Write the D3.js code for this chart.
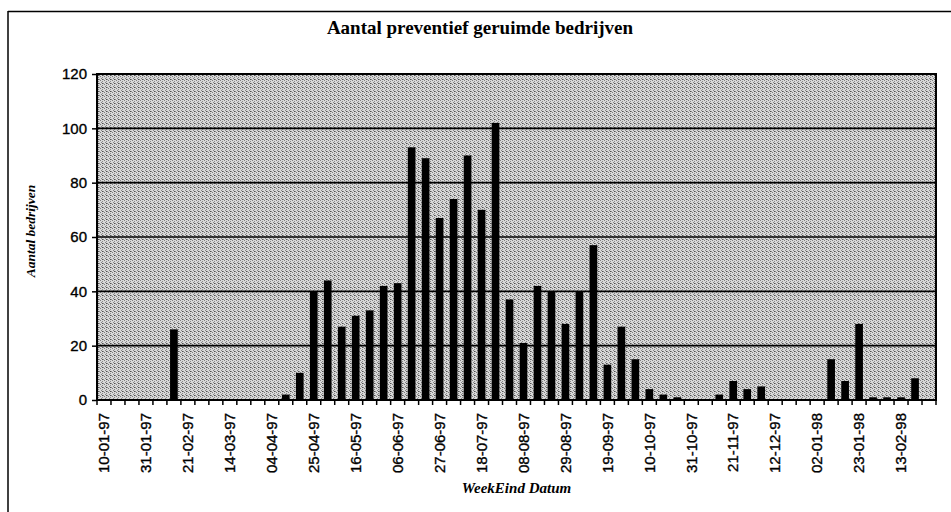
<!DOCTYPE html>
<html>
<head>
<meta charset="utf-8">
<script src="https://cdn.jsdelivr.net/npm/d3@7"></script>
<style>
  html, body { margin: 0; padding: 0; background: #fff; }
  svg { display: block; }
</style>
</head>
<body>
<svg id="chart" width="951" height="512"></svg>
<script>
// ---- data ----
const categories = [
  "10-01-97","17-01-97","24-01-97","31-01-97","07-02-97","14-02-97","21-02-97","28-02-97",
  "07-03-97","14-03-97","21-03-97","28-03-97","04-04-97","11-04-97","18-04-97","25-04-97",
  "02-05-97","09-05-97","16-05-97","23-05-97","30-05-97","06-06-97","13-06-97","20-06-97",
  "27-06-97","04-07-97","11-07-97","18-07-97","25-07-97","01-08-97","08-08-97","15-08-97",
  "22-08-97","29-08-97","05-09-97","12-09-97","19-09-97","26-09-97","03-10-97","10-10-97",
  "17-10-97","24-10-97","31-10-97","07-11-97","14-11-97","21-11-97","28-11-97","05-12-97",
  "12-12-97","19-12-97","26-12-97","02-01-98","09-01-98","16-01-98","23-01-98","30-01-98",
  "06-02-98","13-02-98","20-02-98","27-02-98"
];
const values = [
  0,0,0,0,0,26,0,0,
  0,0,0,0,0,2,10,40,
  44,27,31,33,42,43,93,89,
  67,74,90,70,102,37,21,42,
  40,28,40,57,13,27,15,4,
  2,1,0,0,2,7,4,5,
  0,0,0,0,15,7,28,1,
  1,1,8,0
];
const tickLabels = [
  "10-01-97","31-01-97","21-02-97","14-03-97","04-04-97","25-04-97","16-05-97",
  "06-06-97","27-06-97","18-07-97","08-08-97","29-08-97","19-09-97","10-10-97",
  "31-10-97","21-11-97","12-12-97","02-01-98","23-01-98","13-02-98"
];
const yTicks = [0, 20, 40, 60, 80, 100, 120];
const title = "Aantal preventief geruimde bedrijven";
const xTitle = "WeekEind Datum";
const yTitle = "Aantal bedrijven";

// ---- layout ----
const svg = d3.select("#chart");
const plot = { left: 97, right: 936, top: 74, bottom: 400 };

const pad = 0.45;
const x = d3.scaleBand().domain(categories)
  .range([plot.left, plot.right]).paddingInner(pad).paddingOuter(pad / 2);
const y = d3.scaleLinear().domain([0, 120]).range([plot.bottom, plot.top]);

// outer frame (left + top)
svg.append("line").attr("x1", 8).attr("x2", 951).attr("y1", 11.5).attr("y2", 11.5)
  .attr("stroke", "#000").attr("stroke-width", 1.5);
svg.append("line").attr("x1", 8).attr("x2", 8).attr("y1", 11).attr("y2", 512)
  .attr("stroke", "#000").attr("stroke-width", 1.5);

// texture pattern for plot area
const defs = svg.append("defs");
const pat = defs.append("pattern").attr("id", "tex")
  .attr("width", 4).attr("height", 4).attr("patternUnits", "userSpaceOnUse");
pat.append("rect").attr("width", 4).attr("height", 4).attr("fill", "#d8d8d8");
[[0,0,"#7e7e7e"],[2,1,"#8a8a8a"],[1,2,"#858585"],[3,3,"#8a8a8a"],[2,3,"#505050"]].forEach(p => {
  pat.append("rect").attr("x", p[0]).attr("y", p[1]).attr("width", 1).attr("height", 1).attr("fill", p[2]);
});

svg.append("rect")
  .attr("x", plot.left).attr("y", plot.top)
  .attr("width", plot.right - plot.left).attr("height", plot.bottom - plot.top)
  .attr("fill", "url(#tex)");

// gridlines
svg.append("g").selectAll("line").data(yTicks.filter(d => d > 0 && d < 120)).join("line")
  .attr("x1", plot.left).attr("x2", plot.right)
  .attr("y1", d => y(d)).attr("y2", d => y(d))
  .attr("stroke", "#000").attr("stroke-width", 1.6);

// bars
svg.append("g").selectAll("rect").data(values).join("rect")
  .attr("x", (d, i) => x(categories[i]))
  .attr("width", x.bandwidth())
  .attr("y", d => y(d))
  .attr("height", d => y(0) - y(d))
  .attr("fill", "#000");

// plot border
svg.append("rect")
  .attr("x", plot.left).attr("y", plot.top)
  .attr("width", plot.right - plot.left).attr("height", plot.bottom - plot.top)
  .attr("fill", "none").attr("stroke", "#000").attr("stroke-width", 2);

// y axis
const yAxis = d3.axisLeft(y).tickValues(yTicks).tickSize(5).tickPadding(5);
const gy = svg.append("g").attr("transform", `translate(${plot.left},0)`).call(yAxis);
gy.select(".domain").remove();
gy.selectAll("line").attr("stroke", "#000").attr("stroke-width", 1.5);
gy.selectAll("text").attr("font-family", "'Liberation Sans', Arial, sans-serif")
  .attr("font-size", 15).attr("fill", "#000")
  .attr("stroke", "#000").attr("stroke-width", 0.35);

// x axis ticks at category boundaries
const step = x.step();
const boundaries = categories.map(c => x(c) - step * pad / 2).concat([plot.right]);
svg.append("g").selectAll("line").data(boundaries).join("line")
  .attr("x1", d => d).attr("x2", d => d)
  .attr("y1", plot.bottom).attr("y2", plot.bottom + 5)
  .attr("stroke", "#000").attr("stroke-width", 1.5);

// x tick labels (rotated)
svg.append("g").selectAll("text").data(tickLabels).join("text")
  .attr("transform", d => `translate(${x(d) + x.bandwidth() / 2},${plot.bottom + 13}) rotate(-90)`)
  .attr("text-anchor", "end")
  .attr("dy", "0.35em")
  .attr("font-family", "'Liberation Sans', Arial, sans-serif")
  .attr("font-size", 15)
  .attr("fill", "#000")
  .attr("stroke", "#000").attr("stroke-width", 0.35)
  .text(d => d);

// titles
svg.append("text")
  .attr("x", 480).attr("y", 34)
  .attr("text-anchor", "middle")
  .attr("font-family", "'Liberation Serif', 'Times New Roman', serif")
  .attr("font-weight", "bold").attr("font-size", 19)
  .text(title);

svg.append("text")
  .attr("x", (plot.left + plot.right) / 2).attr("y", 493)
  .attr("text-anchor", "middle")
  .attr("font-family", "'Liberation Serif', 'Times New Roman', serif")
  .attr("font-weight", "bold").attr("font-style", "italic").attr("font-size", 15)
  .text(xTitle);

svg.append("text")
  .attr("transform", `translate(35,231) rotate(-90)`)
  .attr("text-anchor", "middle")
  .attr("font-family", "'Liberation Serif', 'Times New Roman', serif")
  .attr("font-weight", "bold").attr("font-style", "italic").attr("font-size", 13.5)
  .text(yTitle);
</script>
</body>
</html>
